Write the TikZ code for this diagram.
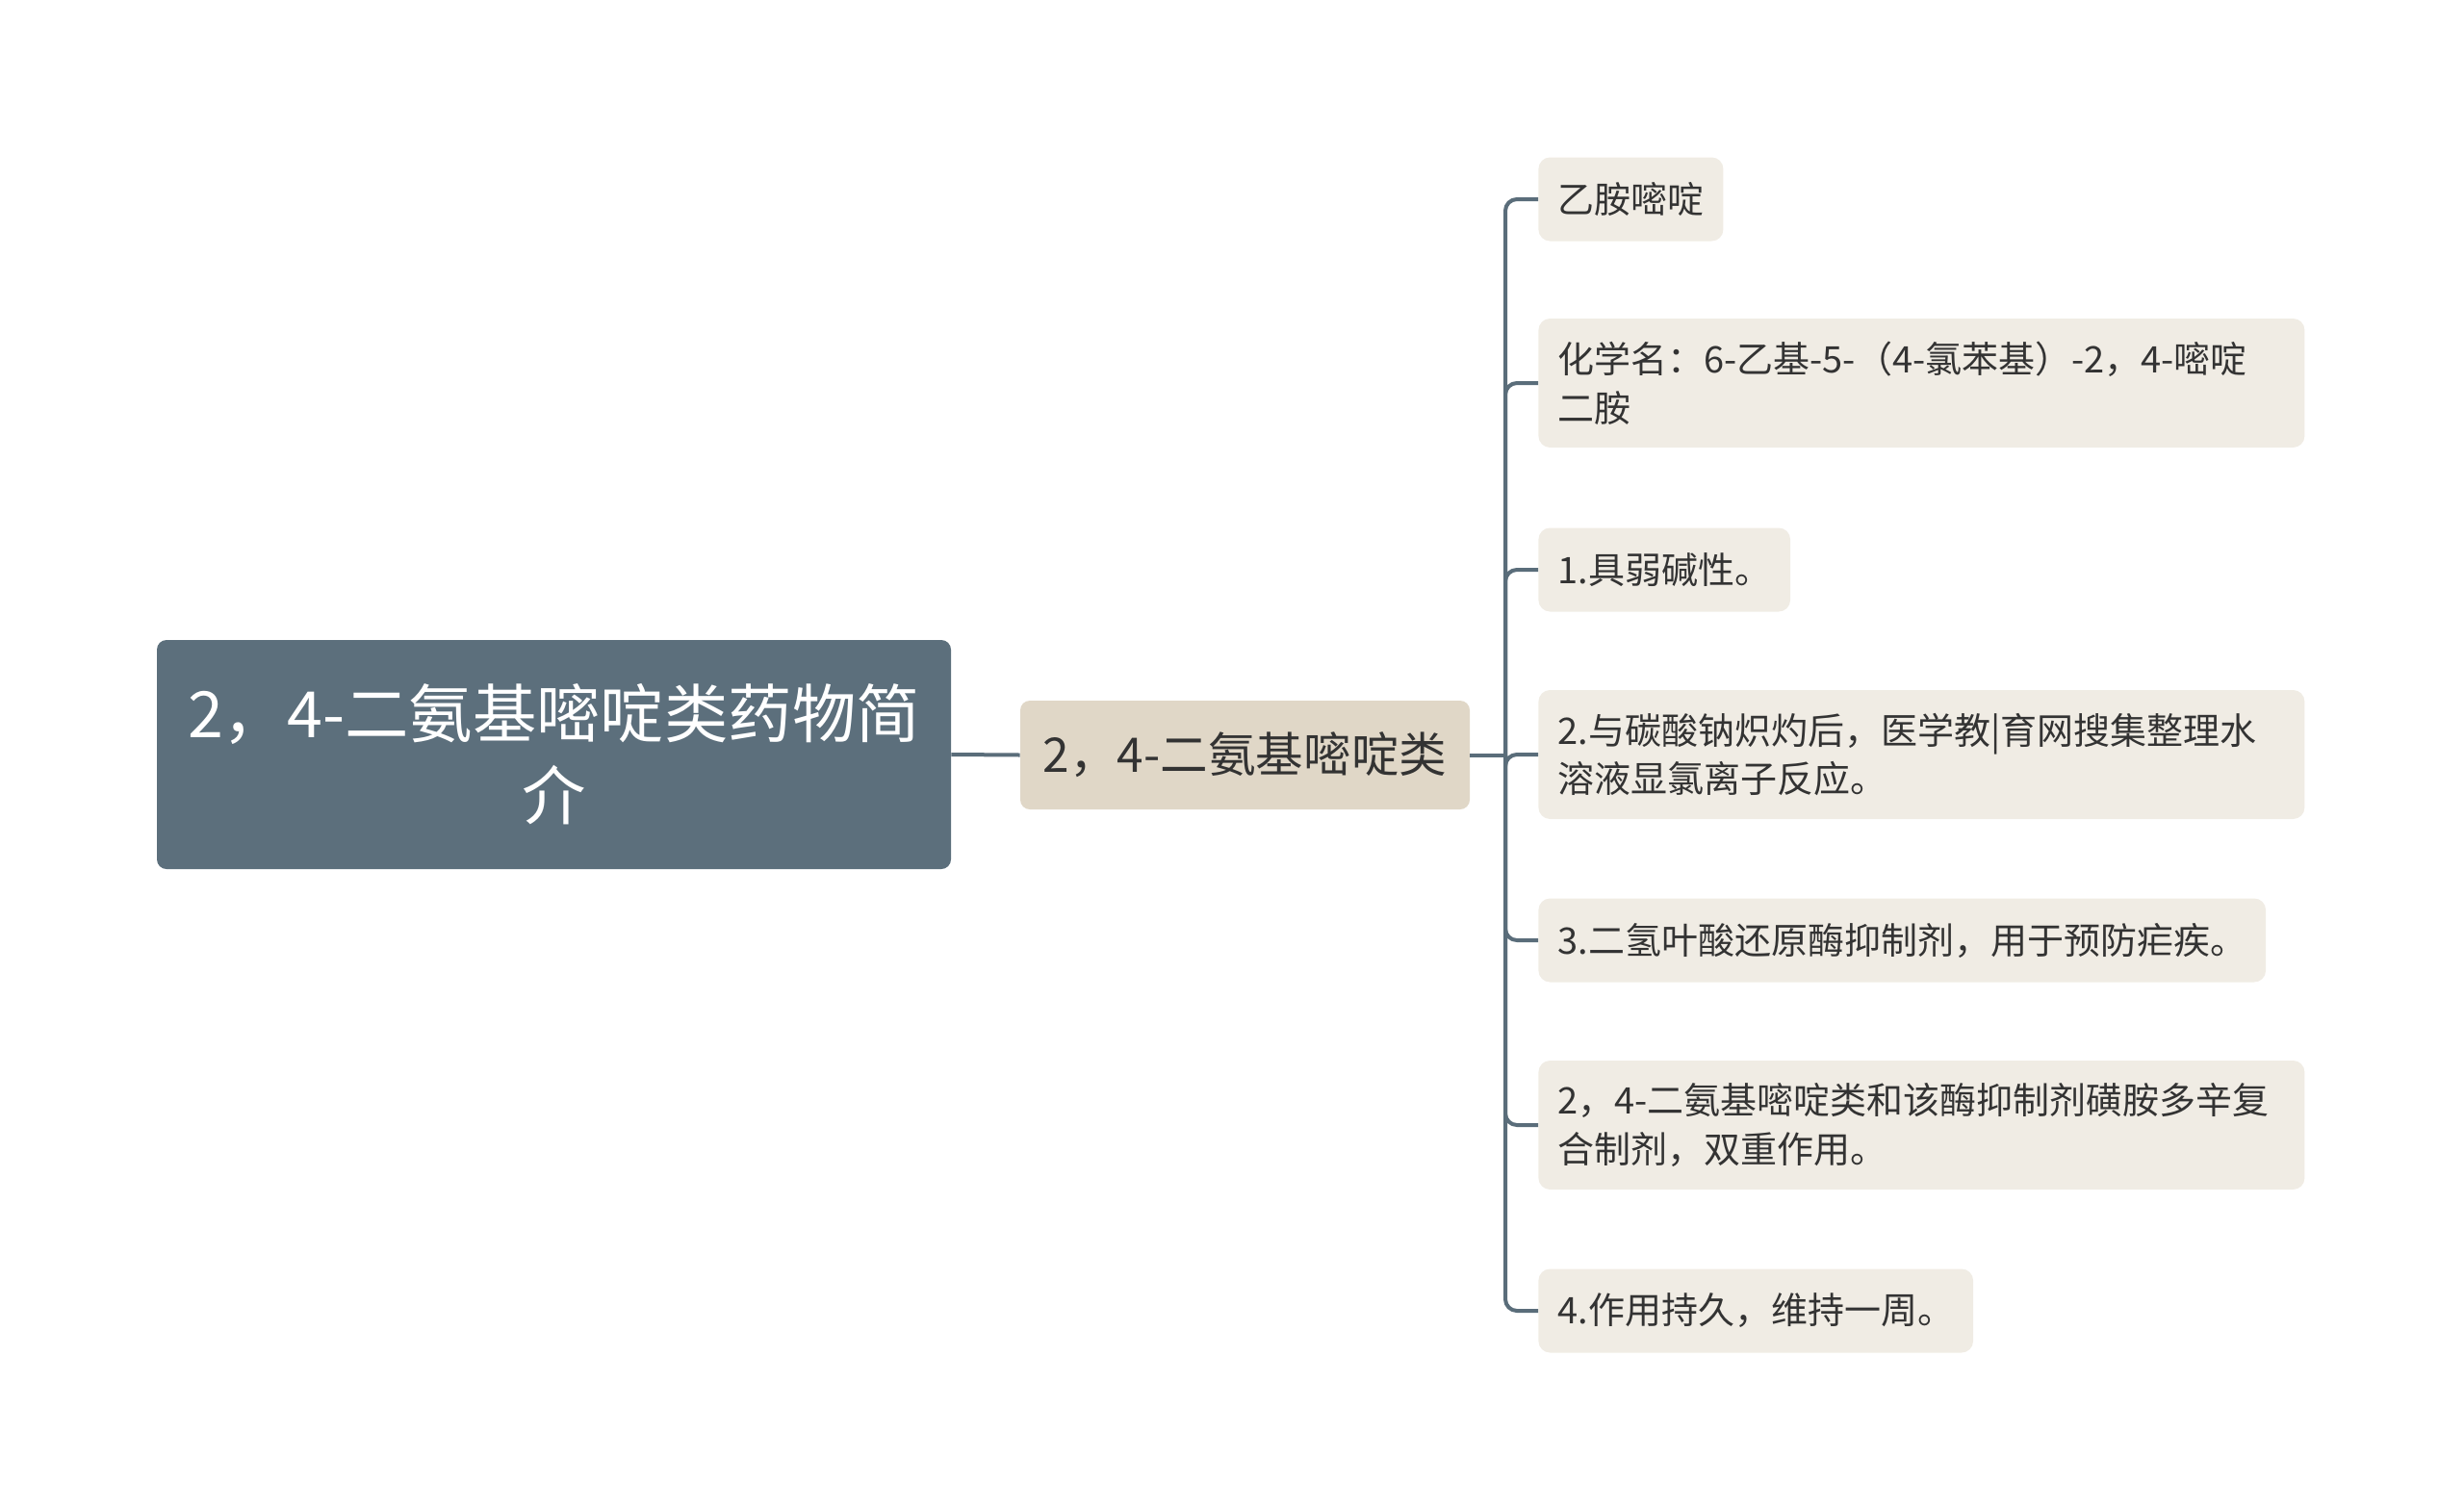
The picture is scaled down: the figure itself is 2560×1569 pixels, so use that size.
\documentclass[tikz,border=0pt]{standalone}
\usepackage{fontspec}
\setmainfont{Noto Sans CJK SC}
\definecolor{rootcol}{HTML}{5C6F7C}
\definecolor{midcol}{HTML}{E0D7C7}
\definecolor{leafcol}{HTML}{F0ECE4}
\definecolor{linecol}{HTML}{5A6D7A}
\definecolor{txtcol}{HTML}{333333}
\begin{document}
\begin{tikzpicture}[x=0.5pt,y=-0.5pt,
  rootbox/.style={fill=rootcol, rounded corners=5pt, text=white, align=center,
    font=\fontsize{33.2}{42.5}\selectfont, minimum width=412.5pt, minimum height=119pt},
  midbox/.style={fill=midcol, rounded corners=5pt, text=txtcol,
    font=\fontsize{24.8}{30}\selectfont, minimum width=233.5pt, minimum height=56.5pt},
  leafbox/.style={fill=leafcol, rounded corners=6pt, text=txtcol, anchor=west, align=left,
    inner xsep=10pt, font=\fontsize{19}{25.3}\selectfont, minimum height=43.5pt},
  widebox/.style={leafbox, text width=378pt, minimum height=67pt},
  link/.style={draw=linecol, line width=2pt, rounded corners=6pt}]
\useasboundingbox (0,0) rectangle (2560,1569);
\node[rootbox] (root) at (575.5,784) {2，4-二氨基嘧啶类药物简\\介};
\node[midbox] (mid) at (1293.5,784.5) {2，4-二氨基嘧啶类};
\node[leafbox] (l1) at (1598,207) {乙胺嘧啶};
\node[widebox] (l2) at (1598,398) {化学名：6-乙基-5-（4-氯苯基）-2，4-嘧啶\\二胺};
\node[leafbox] (l3) at (1598,592) {1.具弱碱性。};
\node[widebox] (l4) at (1598,784) {2.与碳酸钠炽灼后，医学教|育网搜集整理水\\溶液显氯离子反应。};
\node[leafbox] (l5) at (1598,977) {3.二氢叶酸还原酶抑制剂，用于预防疟疾。};
\node[widebox] (l6) at (1598,1169) {2，4-二氨基嘧啶类和该酶抑制剂磺胺多辛复\\合制剂，双重作用。};
\node[leafbox] (l7) at (1598,1362) {4.作用持久，维持一周。};
\draw[link] (root.east) -- (mid.west);
\coordinate (split) at (1564,784.5);
\draw[link] (mid.east) -- (split);
\foreach \n in {l1,l2,l3,l4,l5,l6,l7}
  \draw[link] (split) |- (\n.west);
\end{tikzpicture}
\end{document}
